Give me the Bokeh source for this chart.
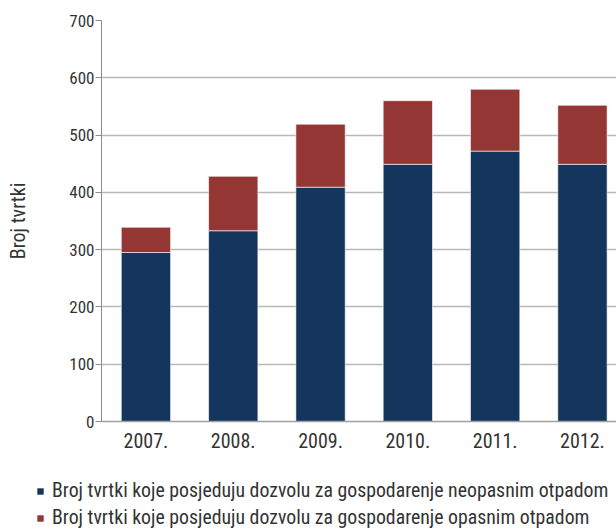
from bokeh.plotting import figure
from bokeh.layouts import column
from bokeh.models import ColumnDataSource, FixedTicker, Legend, LegendItem, Range1d
from bokeh.embed import file_html
from bokeh.resources import INLINE

years = ["2007.", "2008.", "2009.", "2010.", "2011.", "2012."]
neopasni = [295, 333, 409, 449, 472, 449]
ukupno = [339, 428, 519, 560, 580, 552]
opasni = [t - n for t, n in zip(ukupno, neopasni)]
series_labels = [
    "Broj tvrtki koje posjeduju dozvolu za gospodarenje neopasnim otpadom",
    "Broj tvrtki koje posjeduju dozvolu za gospodarenje opasnim otpadom",
]
series_colors = ["#14365d", "#943634"]
y_ticks = [0, 100, 200, 300, 400, 500, 600, 700]

FONT = "'Liberation Sans Narrow', 'Arial Narrow', 'Roboto Condensed', Roboto, sans-serif"
TXT = "#333333"

x = list(range(len(years)))
src = ColumnDataSource(dict(x=x, neopasni=neopasni, opasni=opasni))

p = figure(width=616, height=455, output_backend="svg", toolbar_location=None,
           x_range=Range1d(-0.509, 5.39), y_range=Range1d(0, 700),
           min_border_left=101, min_border_top=20, min_border_right=0,
           min_border_bottom=34)
p.outline_line_color = None

rs = p.vbar_stack(["neopasni", "opasni"], x="x", width=0.565, source=src,
                  color=series_colors, line_color="#ffffff", line_alpha=0.6,
                  line_width=1)

p.xgrid.grid_line_color = None
p.ygrid.grid_line_color = "#b8b8b8"
p.ygrid.grid_line_width = 1.5
p.ygrid.ticker = FixedTicker(ticks=y_ticks)

p.yaxis.ticker = FixedTicker(ticks=y_ticks)
p.yaxis.axis_line_color = "#8c8c8c"
p.yaxis.major_tick_line_color = "#8c8c8c"
p.yaxis.major_tick_out = 6
p.yaxis.major_tick_in = 0
p.yaxis.minor_tick_line_color = None
p.yaxis.major_label_text_font = FONT
p.yaxis.major_label_text_font_size = "17px"
p.yaxis.major_label_text_color = TXT
p.yaxis.major_label_standoff = 1
p.yaxis.axis_label = "Broj tvrtki"
p.yaxis.axis_label_text_font = FONT
p.yaxis.axis_label_text_font_size = "20px"
p.yaxis.axis_label_text_font_style = "normal"
p.yaxis.axis_label_text_color = TXT
p.yaxis.axis_label_standoff = 36

p.xaxis.ticker = FixedTicker(ticks=x)
p.xaxis.major_label_overrides = {i: y for i, y in zip(x, years)}
p.xaxis.axis_line_color = "#a0a0a0"
p.xaxis.axis_line_width = 1.5
p.xaxis.major_tick_line_color = None
p.xaxis.minor_tick_line_color = None
p.xaxis.major_label_text_font = FONT
p.xaxis.major_label_text_font_size = "20px"
p.xaxis.major_label_text_color = TXT
p.xaxis.major_label_standoff = 5

# legend strip below the chart
lg = figure(width=616, height=74, output_backend="svg", toolbar_location=None,
            x_axis_location=None, y_axis_location=None,
            x_range=Range1d(0, 1), y_range=Range1d(0, 1),
            min_border=0)
lg.frame_align = False
lg.outline_line_color = None
lg.xgrid.grid_line_color = None
lg.ygrid.grid_line_color = None
swatches = [lg.vbar(x=[5], top=[5], width=0.5, fill_color=c, line_color=None)
            for c in series_colors]

legend = Legend(
    items=[LegendItem(label=lab, renderers=[r]) for lab, r in zip(series_labels, swatches)],
    location=(36, 0), orientation="vertical",
    glyph_width=8, glyph_height=8, label_standoff=8, spacing=4,
    padding=0, margin=0, border_line_color=None, background_fill_alpha=0,
    label_text_font=FONT, label_text_font_size="19.8px", label_text_color=TXT,
    label_height=23,
)
lg.add_layout(legend, "center")

layout = column(p, lg, spacing=0)
open("out.html", "w").write(file_html(layout, INLINE))
